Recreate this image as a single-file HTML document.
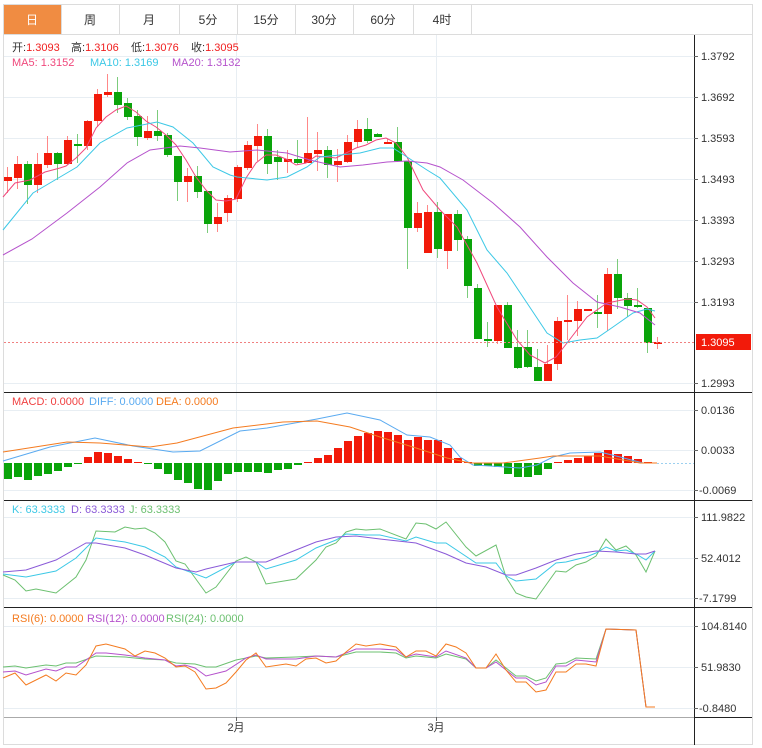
<!DOCTYPE html>
<html><head><meta charset="utf-8"><style>
html,body{margin:0;padding:0;background:#fff;width:762px;height:748px;overflow:hidden}
svg{display:block}
text{font-family:"Liberation Sans","Noto Sans CJK SC",sans-serif;font-size:11px}
</style></head><body>
<svg id="s" width="762" height="748" xmlns="http://www.w3.org/2000/svg">
<rect x="3.5" y="4.5" width="749" height="740" fill="#fff" stroke="#dcdcdc"/>
<rect x="4" y="5" width="57" height="29" fill="#f08c42"/>
<g stroke="#dcdcdc">
<line x1="4" y1="34.5" x2="752" y2="34.5"/>
<line x1="61.5" y1="5" x2="61.5" y2="34"/><line x1="119.5" y1="5" x2="119.5" y2="34"/>
<line x1="179.5" y1="5" x2="179.5" y2="34"/><line x1="237.5" y1="5" x2="237.5" y2="34"/>
<line x1="295.5" y1="5" x2="295.5" y2="34"/><line x1="353.5" y1="5" x2="353.5" y2="34"/>
<line x1="413.5" y1="5" x2="413.5" y2="34"/><line x1="471.5" y1="5" x2="471.5" y2="34"/>
</g>
<g text-anchor="middle">
<text x="32" y="24" fill="#fff" style="font-size:12px">日</text>
<text x="90" y="24" fill="#333" style="font-size:12px">周</text>
<text x="149" y="24" fill="#333" style="font-size:12px">月</text>
<text x="208" y="24" fill="#333" style="font-size:12px">5分</text>
<text x="266" y="24" fill="#333" style="font-size:12px">15分</text>
<text x="324" y="24" fill="#333" style="font-size:12px">30分</text>
<text x="383" y="24" fill="#333" style="font-size:12px">60分</text>
<text x="442" y="24" fill="#333" style="font-size:12px">4时</text>
</g>
<g stroke="#e8eef3" stroke-width="1">
<line x1="4" y1="56.5" x2="694" y2="56.5"/><line x1="4" y1="97.5" x2="694" y2="97.5"/>
<line x1="4" y1="138.5" x2="694" y2="138.5"/><line x1="4" y1="179.5" x2="694" y2="179.5"/>
<line x1="4" y1="220.5" x2="694" y2="220.5"/><line x1="4" y1="261.5" x2="694" y2="261.5"/>
<line x1="4" y1="302.5" x2="694" y2="302.5"/><line x1="4" y1="383.5" x2="694" y2="383.5"/>
<line x1="4" y1="410.5" x2="694" y2="410.5"/><line x1="4" y1="450.5" x2="694" y2="450.5"/><line x1="4" y1="490.5" x2="694" y2="490.5"/>
<line x1="4" y1="517.5" x2="694" y2="517.5"/><line x1="4" y1="558.5" x2="694" y2="558.5"/><line x1="4" y1="598.5" x2="694" y2="598.5"/>
<line x1="4" y1="626.5" x2="694" y2="626.5"/><line x1="4" y1="667.5" x2="694" y2="667.5"/><line x1="4" y1="708.5" x2="694" y2="708.5"/>
<line x1="236.5" y1="35" x2="236.5" y2="717"/><line x1="436.5" y1="35" x2="436.5" y2="717"/>
</g>
<g id="cand"></g>
<g id="macd"></g>
<polyline fill="none" stroke="#f0487c" stroke-width="1" points="3,197 15,183 30,180 45,172 60,168 66,166 76,158 86,148 96,128 106,117 116,110 126,106 136,112 146,121 156,127 166,135 176,145 186,160 196,177 206,190 216,200 226,201 236,199 246,178 256,163 266,155 276,155 286,159 296,165 306,163 316,156 326,157 336,158 346,153 356,148 366,145 376,140 386,138 396,143 407,157 423,190 440,210 457,227 477,263 497,307 517,340 530,355 545,363 556,357 567,343 587,317 607,303 627,299 637,300 647,307 655,318"/>
<polyline fill="none" stroke="#3cc8e6" stroke-width="1" points="3,230 33,193 55,180 77,167 100,143 127,128 157,122 173,127 193,143 213,167 230,175 237,177 267,180 287,177 307,167 320,157 340,155 360,153 380,148 393,148 407,157 427,170 440,178 467,210 487,250 507,273 527,303 547,333 563,343 580,340 597,338 613,327 633,313 647,309 655,311"/>
<polyline fill="none" stroke="#b552cc" stroke-width="1" points="3,255 32,239 67,213 100,187 127,163 150,150 180,146 200,148 230,152 257,150 287,153 310,160 340,167 363,165 387,162 407,161 427,163 440,167 463,180 493,203 520,227 547,257 573,283 597,302 620,307 640,313 655,325"/>
<line x1="4" y1="342.5" x2="694" y2="342.5" stroke="#f08080" stroke-dasharray="2,2"/>
<polyline fill="none" stroke="#5aaaf0" points="3,461 50,447 95,438 133,446 173,452 200,451 240,431 267,428 317,419 347,413 380,420 407,435 430,437 450,445 460,457 473,465 490,466 520,468 537,465 553,457 570,453 600,452 620,457 643,463 657,463"/>
<polyline fill="none" stroke="#f47b20" points="3,452 67,442 100,443 150,447 177,443 233,428 283,422 317,421 350,427 380,437 413,447 447,458 470,463 503,463 540,458 553,456 600,456 623,460 640,463 657,463"/>
<line x1="657" y1="463.5" x2="694" y2="463.5" stroke="#9cd0f0" stroke-dasharray="2,2"/>
<polyline fill="none" stroke="#6cc070" points="3,575 15,580 26,591 36,589 56,593 76,577 86,560 96,531 115,532 125,527 135,529 145,528 155,533 165,542 176,561 185,564 206,593 216,587 236,561 246,557 256,562 266,584 296,579 316,560 326,547 336,543 346,532 356,529 366,530 380,529 406,539 416,523 426,524 436,529 446,522 466,547 476,556 496,545 506,577 516,593 526,597 536,599 556,571 566,572 576,565 586,562 596,556 606,539 616,550 626,546 636,555 646,572 655,551"/>
<polyline fill="none" stroke="#3cc8e6" points="3,574 26,577 56,571 76,558 96,538 125,542 145,547 165,557 176,567 206,578 236,562 256,562 266,569 296,560 316,548 336,540 346,534 366,535 380,535 406,541 416,537 436,543 446,543 476,563 496,563 506,576 516,581 536,579 556,563 566,562 586,557 596,553 606,547 616,551 626,550 636,554 646,560 655,551"/>
<polyline fill="none" stroke="#8a5ad8" points="3,572 26,570 56,560 86,543 96,543 125,548 145,555 176,568 196,572 206,569 236,562 266,562 296,550 316,542 336,537 356,536 380,539 416,543 446,554 466,563 486,567 506,575 516,575 536,568 556,560 576,554 596,551 616,552 636,554 646,554 655,551"/>
<polyline fill="none" stroke="#6cc070" points="3,667 15,666 26,668 46,665 56,666 66,663 76,663 96,656 125,657 145,659 165,660 176,663 195,664 206,667 216,667 236,660 256,656 266,658 296,657 316,656 336,657 356,652 380,652 396,653 406,658 416,656 436,658 446,654 466,659 476,668 486,668 496,660 516,676 526,676 536,681 546,678 556,664 566,663 576,658 596,659 606,629 636,630 646,707 655,707"/>
<polyline fill="none" stroke="#b552cc" points="3,672 15,671 26,675 46,669 56,671 66,667 76,667 96,653 106,653 125,655 145,658 165,660 176,666 185,665 195,668 206,676 226,671 246,658 256,655 266,659 296,659 316,656 336,657 356,649 380,649 396,650 406,657 416,654 436,657 446,651 466,658 476,668 486,668 496,662 516,678 526,678 536,685 546,682 556,666 566,666 576,660 596,662 606,629 636,630 646,707 655,707"/>
<polyline fill="none" stroke="#f47b20" points="3,678 15,673 26,685 46,675 56,681 66,673 76,675 86,665 96,646 106,644 125,649 135,656 145,651 155,653 165,658 176,667 185,666 195,672 206,689 216,688 226,683 236,672 246,660 256,653 266,667 286,664 296,666 306,659 316,658 326,663 336,661 346,652 356,644 366,646 380,644 396,647 406,657 416,651 426,651 436,656 446,644 456,647 466,653 476,668 486,668 496,654 506,670 516,682 526,682 536,692 546,690 556,672 566,672 576,664 586,664 596,666 606,629 636,630 646,707 655,707"/>
<g stroke="#222">
<line x1="4" y1="392.5" x2="752" y2="392.5"/>
<line x1="4" y1="500.5" x2="752" y2="500.5"/>
<line x1="4" y1="607.5" x2="752" y2="607.5"/>
<line x1="694.5" y1="35" x2="694.5" y2="745"/>
</g>
<line x1="4" y1="717.5" x2="694" y2="717.5" stroke="#aaa"/>
<line x1="694" y1="717.5" x2="752" y2="717.5" stroke="#222"/>
<g stroke="#666">
<line x1="694" y1="56.5" x2="698" y2="56.5"/><line x1="694" y1="97.5" x2="698" y2="97.5"/><line x1="694" y1="138.5" x2="698" y2="138.5"/><line x1="694" y1="179.5" x2="698" y2="179.5"/><line x1="694" y1="220.5" x2="698" y2="220.5"/><line x1="694" y1="261.5" x2="698" y2="261.5"/><line x1="694" y1="302.5" x2="698" y2="302.5"/><line x1="694" y1="383.5" x2="698" y2="383.5"/>
<line x1="694" y1="410.5" x2="698" y2="410.5"/><line x1="694" y1="450.5" x2="698" y2="450.5"/><line x1="694" y1="490.5" x2="698" y2="490.5"/>
<line x1="694" y1="517.5" x2="698" y2="517.5"/><line x1="694" y1="558.5" x2="698" y2="558.5"/><line x1="694" y1="598.5" x2="698" y2="598.5"/>
<line x1="694" y1="626.5" x2="698" y2="626.5"/><line x1="694" y1="667.5" x2="698" y2="667.5"/><line x1="694" y1="708.5" x2="698" y2="708.5"/>
<line x1="236.5" y1="717" x2="236.5" y2="721"/><line x1="436.5" y1="717" x2="436.5" y2="721"/>
</g>
<g fill="#333">
<text x="701" y="60">1.3792</text><text x="701" y="101">1.3692</text><text x="701" y="142">1.3593</text><text x="701" y="183">1.3493</text><text x="701" y="224">1.3393</text><text x="701" y="265">1.3293</text><text x="701" y="306">1.3193</text><text x="701" y="387">1.2993</text>
<text x="701" y="414">0.0136</text><text x="701" y="454">0.0033</text><text x="699" y="494">-0.0069</text>
<text x="701" y="521">111.9822</text><text x="701" y="562">52.4012</text><text x="699" y="602">-7.1799</text>
<text x="701" y="630">104.8140</text><text x="701" y="671">51.9830</text><text x="699" y="712">-0.8480</text>
<text x="236" y="731" text-anchor="middle">2月</text><text x="436" y="731" text-anchor="middle">3月</text>
</g>
<rect x="696" y="334" width="55" height="16" fill="#f21a0a"/>
<text x="701" y="346" fill="#fff">1.3095</text>
<text x="12" y="51" fill="#333">开:<tspan fill="#f02020">1.3093</tspan></text>
<text x="71" y="51" fill="#333">高:<tspan fill="#f02020">1.3106</tspan></text>
<text x="131" y="51" fill="#333">低:<tspan fill="#f02020">1.3076</tspan></text>
<text x="191" y="51" fill="#333">收:<tspan fill="#f02020">1.3095</tspan></text>
<text x="12" y="66" fill="#f0487c">MA5: 1.3152</text>
<text x="90" y="66" fill="#3cc8e6">MA10: 1.3169</text>
<text x="172" y="66" fill="#b552cc">MA20: 1.3132</text>
<text x="12" y="405" fill="#f04040">MACD: 0.0000</text>
<text x="89" y="405" fill="#5aaaf0">DIFF: 0.0000</text>
<text x="156" y="405" fill="#f47b20">DEA: 0.0000</text>
<text x="12" y="513" fill="#3cc8e6">K: 63.3333</text>
<text x="71" y="513" fill="#8a5ad8">D: 63.3333</text>
<text x="129" y="513" fill="#6cc070">J: 63.3333</text>
<text x="12" y="622" fill="#f47b20">RSI(6): 0.0000</text>
<text x="87" y="622" fill="#b552cc">RSI(12): 0.0000</text>
<text x="166" y="622" fill="#6cc070">RSI(24): 0.0000</text>
</svg>
<script>
var C=[[177,181,167,193,'r'],[164,178,156,189,'r'],[164,185,161,204,'g'],[164,185,153,193,'r'],[153,165,136,168,'r'],[153,164,152,180,'g'],[140,164,136,165,'r'],[144,146,134,163,'g'],[121,146,120,150,'r'],[94,121,89,127,'r'],[92,95,74,97,'r'],[92,105,77,113,'g'],[103,117,98,120,'g'],[116,137,110,146,'g'],[131,138,116,140,'r'],[131,136,110,141,'g'],[135,155,133,157,'g'],[156,182,156,201,'g'],[176,182,168,202,'r'],[176,192,166,198,'g'],[191,224,191,233,'g'],[217,224,203,232,'r'],[198,213,195,222,'r'],[167,199,165,202,'r'],[145,168,141,170,'r'],[136,146,124,161,'r'],[136,164,129,174,'g'],[157,162,150,180,'g'],[159,162,150,173,'r'],[159,163,140,165,'g'],[153,163,117,163,'r'],[150,154,132,171,'r'],[150,165,146,178,'g'],[161,165,149,182,'r'],[142,162,135,163,'r'],[129,142,120,147,'r'],[129,141,118,143,'g'],[134,137,133,137,'g'],[142,143,139,143,'r'],[142,161,127,162,'g'],[161,228,161,269,'g'],[213,228,202,232,'r'],[212,253,205,253,'r'],[212,249,202,258,'g'],[214,251,214,269,'r'],[214,240,210,251,'g'],[239,286,236,298,'g'],[288,339,284,339,'g'],[339,341,322,347,'g'],[305,341,305,344,'r'],[305,348,302,348,'g'],[347,368,330,369,'g'],[347,367,330,368,'g'],[367,381,349,381,'g'],[364,381,345,381,'r'],[321,364,317,370,'r'],[320,322,295,340,'r'],[309,321,301,336,'r'],[309,311,309,311,'r'],[312,314,295,328,'g'],[274,314,268,331,'r'],[274,298,259,309,'g'],[298,306,293,317,'g'],[305,307,288,308,'g'],[308,343,308,353,'g'],[342,343,337,349,'r']];
var M=[479,477,480,476,474,471,467,464,457,452,453,456,459,462,464,469,474,480,483,489,490,481,474,472,472,472,473,470,469,465,462,458,455,448,441,436,433,431,432,435,440,437,440,440,448,458,462,466,466,467,474,477,477,475,469,462,460,458,456,453,450,454,456,459,462];
var g=document.getElementById('cand'),h='';
for(var i=0;i<C.length;i++){var c=C[i],x=7+10*i,col=c[4]=='r'?'#f21a0a':'#0aa40a',wc=c[4]=='r'?'#f88':'#7ccc7c';
h+='<line x1="'+(x+.5)+'" y1="'+c[2]+'" x2="'+(x+.5)+'" y2="'+c[3]+'" stroke="'+wc+'"/>';
h+='<rect x="'+(x-3)+'" y="'+c[0]+'" width="8" height="'+Math.max(2,c[1]-c[0])+'" fill="'+col+'"/>';}
g.innerHTML=h;h='';
for(var i=0;i<M.length;i++){var x=7+10*i,v=M[i],z=463;var y=Math.min(v,z),hh=Math.max(1,Math.abs(v-z));
h+='<rect x="'+(x-3)+'" y="'+y+'" width="8" height="'+hh+'" fill="'+(v<z?'#f21a0a':'#0aa40a')+'"/>';}
document.getElementById('macd').innerHTML=h;
</script>
</body></html>
